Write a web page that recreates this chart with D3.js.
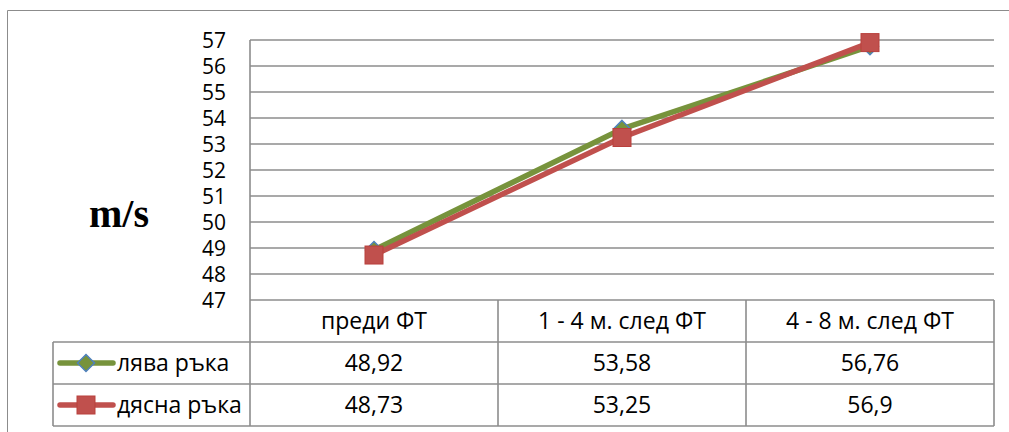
<!DOCTYPE html>
<html>
<head>
<meta charset="utf-8">
<script src="https://cdn.jsdelivr.net/npm/d3@7"></script>
<style>
  html, body { margin: 0; padding: 0; background: #fff; }
  svg { display: block; }
  text { font-family: "Open Sans", Lato, sans-serif; fill: #000; }
</style>
</head>
<body>
<svg id="chart" width="1009" height="432"></svg>
<script>
// Periods of measurement
const categories = ["преди ФТ", "1 - 4 м. след ФТ", "4 - 8 м. след ФТ"];
// Series names
const seriesNames = ["лява ръка", "дясна ръка"];
// Values per period (m/s)
const leftHand = [48.92, 53.58, 56.76];
const rightHand = [48.73, 53.25, 56.9];
// Printed values in the data table
const leftLabels = ["48,92", "53,58", "56,76"];
const rightLabels = ["48,73", "53,25", "56,9"];
// Y axis ticks
const yTicks = [47, 48, 49, 50, 51, 52, 53, 54, 55, 56, 57];

const svg = d3.select("#chart");
const gridColor = "#8c8c8c";
const tickFont = 21;
const tableFont = 23;

const plot = { left: 250, right: 994, top: 40, bottom: 300 };
const rowH = 42;
const tableLeft = 53;

const x = d3.scaleBand().domain(categories).range([plot.left, plot.right]);
const y = d3.scaleLinear().domain([47, 57]).range([plot.bottom, plot.top]);

// Chart frame
svg.append("path")
  .attr("d", "M7.5,440 V10.5 H1020")
  .attr("fill", "none").attr("stroke", gridColor).attr("stroke-width", 1);

// Horizontal gridlines
svg.append("g").selectAll("line").data(yTicks).join("line")
  .attr("x1", plot.left).attr("x2", plot.right)
  .attr("y1", d => y(d)).attr("y2", d => y(d))
  .attr("stroke", gridColor).attr("stroke-width", 1.6);

// Y axis labels
const yAxis = d3.axisLeft(y).tickValues(yTicks).tickSize(0).tickPadding(0);
const gy = svg.append("g").attr("transform", `translate(${plot.left - 24},0)`).call(yAxis);
gy.select(".domain").remove();
gy.selectAll("text")
  .attr("font-family", "Lato, sans-serif")
  .attr("font-size", tickFont)
  .attr("fill", "#000")
  .attr("dy", "0.36em");

// Axis title
svg.append("text")
  .attr("x", 119).attr("y", 227)
  .attr("text-anchor", "middle")
  .style("font-family", "'Liberation Serif', 'Times New Roman', serif")
  .style("font-weight", "bold")
  .style("font-size", "40px")
  .text("m/s");

// Data table grid
const tableBottom = plot.bottom + 3 * rowH;
const tg = svg.append("g").attr("stroke", gridColor).attr("stroke-width", 1.6);
// left edge of plot / table
tg.append("line").attr("x1", plot.left).attr("x2", plot.left).attr("y1", plot.top).attr("y2", tableBottom);
// column separators and right edge
categories.forEach(c => {
  tg.append("line")
    .attr("x1", x(c) + x.bandwidth()).attr("x2", x(c) + x.bandwidth())
    .attr("y1", plot.bottom).attr("y2", tableBottom);
});
// row separators
[1, 2, 3].forEach(i => {
  tg.append("line")
    .attr("x1", tableLeft).attr("x2", plot.right)
    .attr("y1", plot.bottom + i * rowH).attr("y2", plot.bottom + i * rowH);
});
tg.append("line").attr("x1", tableLeft).attr("x2", tableLeft)
  .attr("y1", plot.bottom + rowH).attr("y2", tableBottom);

// Category headers
svg.append("g").selectAll("text").data(categories).join("text")
  .attr("x", d => x(d) + x.bandwidth() / 2)
  .attr("y", plot.bottom + rowH / 2)
  .attr("dy", "0.36em")
  .attr("text-anchor", "middle")
  .attr("font-size", tableFont)
  .text(d => d);

// Table values
[leftLabels, rightLabels].forEach((labels, r) => {
  svg.append("g").selectAll("text").data(labels).join("text")
    .attr("x", (d, i) => x(categories[i]) + x.bandwidth() / 2)
    .attr("y", plot.bottom + (r + 1.5) * rowH)
    .attr("dy", "0.36em")
    .attr("text-anchor", "middle")
    .attr("font-size", tableFont)
    .text(d => d);
});

const green = "#77933C";
const red = "#C0504D";
const blue = "#4F81BD";

const line = d3.line()
  .x((d, i) => x(categories[i]) + x.bandwidth() / 2)
  .y(d => y(d));

const diamond = s => `M0,${-s} L${s},0 L0,${s} L${-s},0 Z`;

// Left hand series
svg.append("path").datum(leftHand)
  .attr("d", line).attr("fill", "none")
  .attr("stroke", green).attr("stroke-width", 5.5).attr("stroke-linejoin", "round");
svg.append("g").selectAll("path").data(leftHand).join("path")
  .attr("transform", (d, i) => `translate(${x(categories[i]) + x.bandwidth() / 2},${y(d)})`)
  .attr("d", diamond(8.5))
  .attr("fill", green).attr("stroke", blue).attr("stroke-width", 1.5);

// Right hand series
svg.append("path").datum(rightHand)
  .attr("d", line).attr("fill", "none")
  .attr("stroke", red).attr("stroke-width", 5.5).attr("stroke-linejoin", "round");
svg.append("g").selectAll("rect").data(rightHand).join("rect")
  .attr("x", (d, i) => x(categories[i]) + x.bandwidth() / 2 - 9)
  .attr("y", d => y(d) - 9)
  .attr("width", 18).attr("height", 18)
  .attr("fill", red).attr("stroke", "#b9403d").attr("stroke-width", 1);

// Legend keys inside the table
const keyX1 = 60, keyX2 = 113, keyMid = 86;
const ky1 = plot.bottom + 1.5 * rowH, ky2 = plot.bottom + 2.5 * rowH;
svg.append("line").attr("x1", keyX1).attr("x2", keyX2).attr("y1", ky1).attr("y2", ky1)
  .attr("stroke", green).attr("stroke-width", 5.5).attr("stroke-linecap", "round");
svg.append("path").attr("transform", `translate(${keyMid},${ky1})`)
  .attr("d", diamond(8.5)).attr("fill", green).attr("stroke", blue).attr("stroke-width", 1.5);
svg.append("line").attr("x1", keyX1).attr("x2", keyX2).attr("y1", ky2).attr("y2", ky2)
  .attr("stroke", red).attr("stroke-width", 5.5).attr("stroke-linecap", "round");
svg.append("rect").attr("x", keyMid - 9).attr("y", ky2 - 9).attr("width", 18).attr("height", 18)
  .attr("fill", red).attr("stroke", "#b9403d").attr("stroke-width", 1);

svg.append("g").selectAll("text").data(seriesNames).join("text")
  .attr("x", 117)
  .attr("y", (d, i) => plot.bottom + (i + 1.5) * rowH)
  .attr("dy", "0.36em")
  .attr("font-size", tableFont)
  .text(d => d);
</script>
</body>
</html>
